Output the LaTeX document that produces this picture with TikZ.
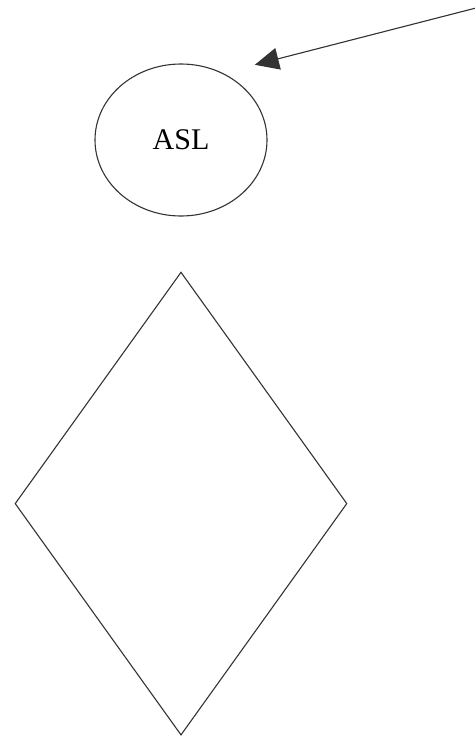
\documentclass[tikz,border=0pt]{standalone}
\usepackage{fontspec}
\setmainfont{Liberation Serif}
\usepackage{tikz}
\usetikzlibrary{arrows.meta,positioning,shapes.geometric}
\tikzset{
  oval/.style={ellipse, draw=black!80, line width=1.1pt, minimum width=172pt, minimum height=152pt, inner sep=0pt, font=\fontsize{30}{34}\selectfont},
  decision/.style={diamond, draw=black!80, line width=1.1pt, minimum width=332pt, minimum height=463pt, inner sep=0pt},
  arrow/.style={-{Triangle[length=24pt,width=22pt]}, draw=black!80, fill=black!75, line width=1.1pt}
}
\begin{document}
\begin{tikzpicture}[x=1pt,y=-1pt]
\useasboundingbox (0,0) rectangle (474,736);
\node[oval] (asl) at (181,140) {ASL};
\node[decision, below=55pt of asl] (dec) {};
\coordinate (src) at (476,8);
\draw[arrow, shorten >=33pt] (src) -- (asl.58);
\end{tikzpicture}
\end{document}
